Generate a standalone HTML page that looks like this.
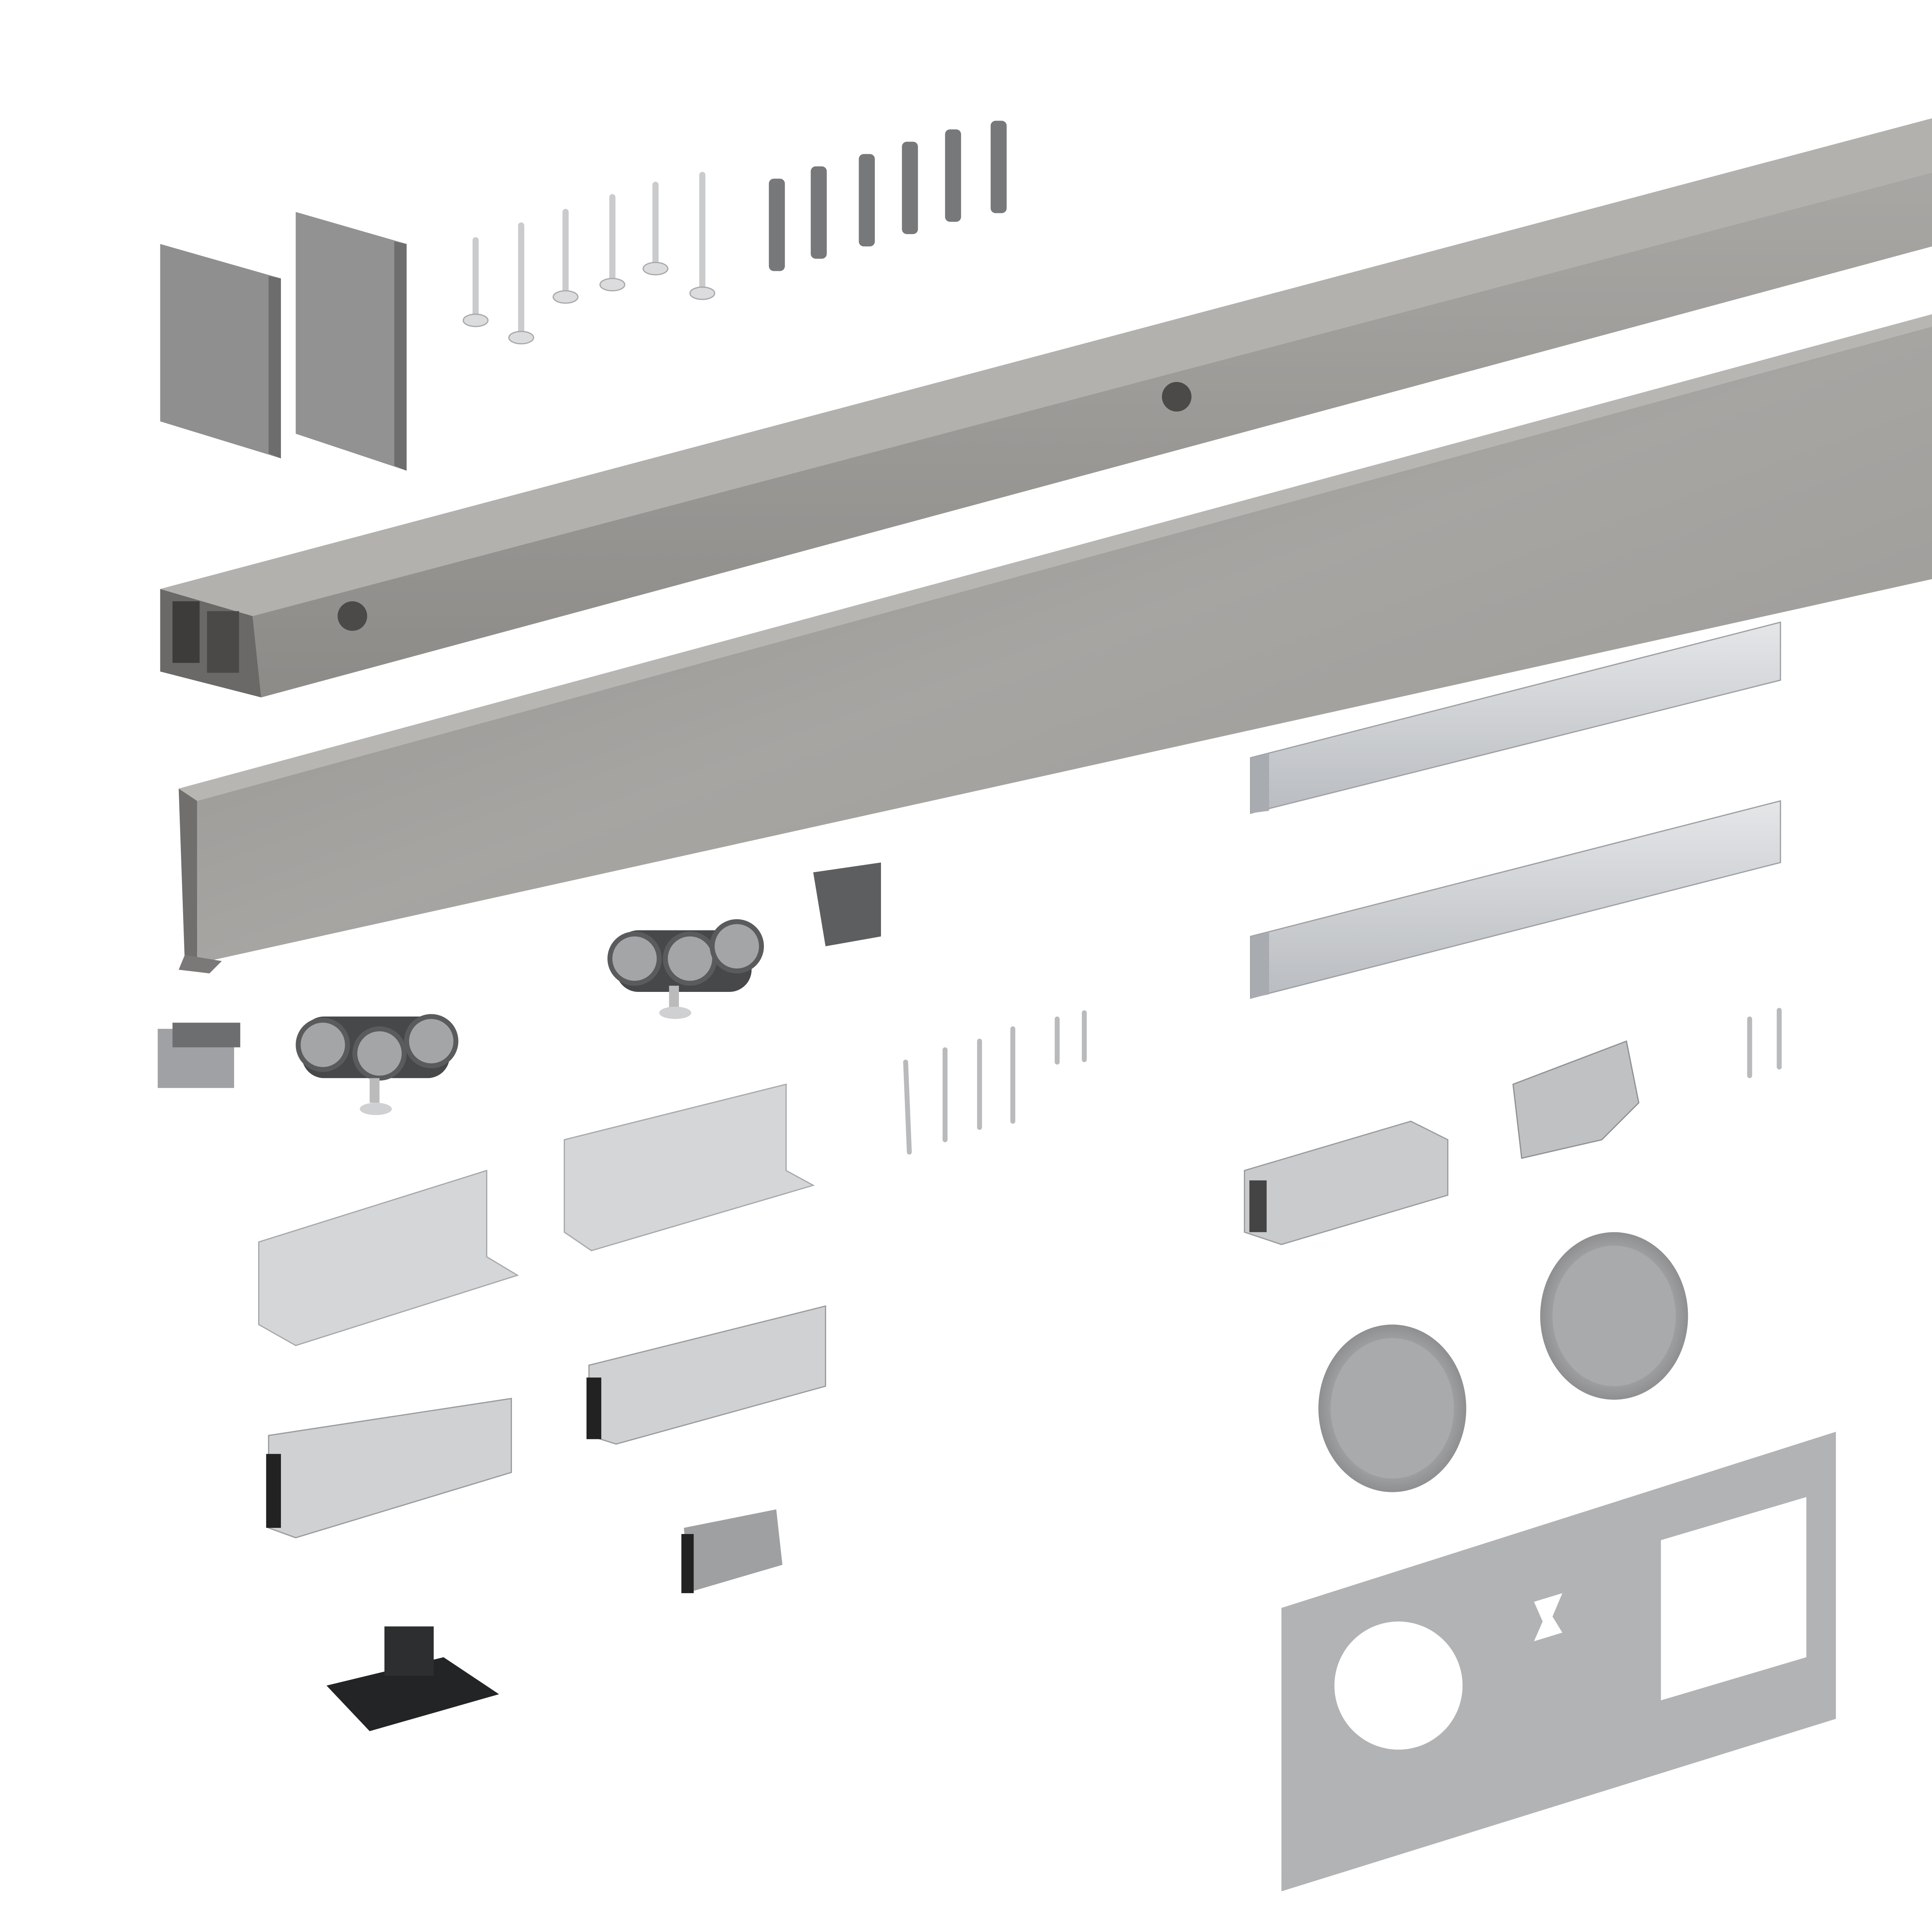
<!DOCTYPE html>
<html><head><meta charset="utf-8"><style>
html,body{margin:0;padding:0;background:#fff;overflow:hidden;width:100%;height:100%;}
svg{display:block;width:100vw;height:100vh;}
</style></head><body>
<svg viewBox="0 0 1568 1568" preserveAspectRatio="xMidYMid meet" xmlns="http://www.w3.org/2000/svg">
<defs>
<linearGradient id="rail" x1="0" y1="0" x2="0" y2="1"><stop offset="0" stop-color="#a9a7a4"/><stop offset="1" stop-color="#8d8b88"/></linearGradient>
<linearGradient id="fas" x1="0" y1="0" x2="1" y2="1"><stop offset="0" stop-color="#8e8c89"/><stop offset="0.5" stop-color="#a7a5a2"/><stop offset="1" stop-color="#9a9895"/></linearGradient>
<linearGradient id="alu" x1="0" y1="0" x2="0" y2="1"><stop offset="0" stop-color="#e4e6e8"/><stop offset="1" stop-color="#b9bcc0"/></linearGradient>
<radialGradient id="hand" cx="0.5" cy="0.5" r="0.5"><stop offset="0.75" stop-color="#a5a6a8"/><stop offset="1" stop-color="#8e8f91"/></radialGradient>
</defs>
<rect width="1568" height="1568" fill="#fff"/>

<polygon points="130,198 228,226 228,372 130,342" fill="#8f8f90"/>
<polygon points="218,224 228,226 228,372 218,368" fill="#6d6d6e"/>
<polygon points="240,172 330,198 330,382 240,352" fill="#929293"/>
<polygon points="320,196 330,198 330,382 320,378" fill="#6e6e6f"/>

<g stroke="#c9cbcd" stroke-width="5" stroke-linecap="round">
<line x1="386" y1="195" x2="386" y2="258"/><line x1="423" y1="183" x2="423" y2="270"/>
<line x1="459" y1="172" x2="459" y2="238"/><line x1="497" y1="160" x2="497" y2="228"/>
<line x1="532" y1="150" x2="532" y2="215"/><line x1="570" y1="142" x2="570" y2="235"/>
</g>
<g fill="#dadcde" stroke="#aaa" stroke-width="1">
<ellipse cx="386" cy="260" rx="10" ry="5"/><ellipse cx="423" cy="274" rx="10" ry="5"/>
<ellipse cx="459" cy="241" rx="10" ry="5"/><ellipse cx="497" cy="231" rx="10" ry="5"/>
<ellipse cx="532" cy="218" rx="10" ry="5"/><ellipse cx="570" cy="238" rx="10" ry="5"/>
</g>

<g fill="#77787a">
<rect x="624" y="145" width="13" height="75" rx="4"/><rect x="658" y="135" width="13" height="75" rx="4"/>
<rect x="697" y="125" width="13" height="75" rx="4"/><rect x="732" y="115" width="13" height="75" rx="4"/>
<rect x="767" y="105" width="13" height="75" rx="4"/><rect x="804" y="98" width="13" height="75" rx="4"/>
</g>

<polygon points="130,478 1568,96 1568,140 205,500" fill="#b3b1ae"/>
<polygon points="205,500 1568,140 1568,200 212,566" fill="url(#rail)"/>
<polygon points="130,478 205,500 212,566 130,545" fill="#6a6967"/>
<rect x="140" y="488" width="22" height="50" fill="#3d3c3b"/>
<rect x="168" y="496" width="26" height="50" fill="#4a4948"/>
<circle cx="286" cy="500" r="12" fill="#4b4a49"/>
<circle cx="955" cy="322" r="12" fill="#4b4a49"/>

<polygon points="145,640 1568,255 1568,265 160,650" fill="#b8b6b3"/>
<polygon points="160,650 1568,265 1568,470 160,782" fill="url(#fas)"/>
<polygon points="145,640 160,650 160,782 150,782" fill="#706f6d"/>
<polygon points="150,775 180,780 170,790 145,787" fill="#7a7977"/>

<polygon points="1015,615 1445,505 1445,552 1015,660" fill="url(#alu)" stroke="#9ea1a4"/>
<polygon points="1015,615 1030,612 1030,658 1015,660" fill="#a8abaf"/>
<polygon points="1015,760 1445,650 1445,700 1015,810" fill="url(#alu)" stroke="#9ea1a4"/>
<polygon points="1015,760 1030,757 1030,807 1015,810" fill="#a8abaf"/>

<polygon points="660,708 715,700 715,760 670,768" fill="#5d5e60"/>
<rect x="128" y="835" width="62" height="48" fill="#9fa1a4"/>
<rect x="140" y="830" width="55" height="20" fill="#6d6e70"/>

<rect x="500" y="755" width="110" height="50" rx="18" fill="#47484a"/>
<circle cx="515" cy="778" r="20" fill="#a4a5a7" stroke="#5a5b5d" stroke-width="4"/>
<circle cx="560" cy="778" r="20" fill="#a4a5a7" stroke="#5a5b5d" stroke-width="4"/>
<circle cx="598" cy="768" r="20" fill="#a4a5a7" stroke="#5a5b5d" stroke-width="4"/>
<rect x="543" y="800" width="8" height="20" fill="#bbb"/><ellipse cx="548" cy="822" rx="13" ry="5" fill="#cfd0d2"/>
<rect x="245" y="825" width="120" height="50" rx="18" fill="#47484a"/>
<circle cx="262" cy="848" r="20" fill="#a4a5a7" stroke="#5a5b5d" stroke-width="4"/>
<circle cx="308" cy="855" r="20" fill="#a4a5a7" stroke="#5a5b5d" stroke-width="4"/>
<circle cx="350" cy="845" r="20" fill="#a4a5a7" stroke="#5a5b5d" stroke-width="4"/>
<rect x="300" y="875" width="8" height="20" fill="#bbb"/><ellipse cx="305" cy="900" rx="13" ry="5" fill="#cfd0d2"/>

<g stroke="#b8babc" stroke-width="4" stroke-linecap="round">
<line x1="735" y1="862" x2="738" y2="935"/><line x1="767" y1="852" x2="767" y2="925"/>
<line x1="795" y1="845" x2="795" y2="915"/><line x1="822" y1="835" x2="822" y2="910"/>
<line x1="858" y1="827" x2="858" y2="862"/><line x1="880" y1="822" x2="880" y2="860"/>
<line x1="1420" y1="827" x2="1420" y2="873"/><line x1="1444" y1="820" x2="1444" y2="866"/>
</g>

<polygon points="210,1008 395,950 395,1020 420,1035 240,1092 210,1075" fill="#d4d6d8" stroke="#a7aaad"/>
<polygon points="458,925 638,880 638,950 660,962 480,1015 458,1000" fill="#d4d6d8" stroke="#a7aaad"/>
<polygon points="218,1165 415,1135 415,1195 240,1248 218,1240" fill="#cfd1d3" stroke="#9a9da0"/>
<rect x="216" y="1180" width="12" height="60" fill="#222"/>
<polygon points="478,1108 670,1060 670,1125 500,1172 478,1165" fill="#cfd1d3" stroke="#9a9da0"/>
<rect x="476" y="1118" width="12" height="50" fill="#222"/>

<polygon points="555,1240 630,1225 635,1270 560,1292" fill="#9fa0a2"/>
<rect x="553" y="1245" width="10" height="48" fill="#222"/>
<polygon points="265,1368 360,1345 405,1375 300,1405" fill="#232425"/>
<rect x="312" y="1320" width="40" height="40" fill="#2d2e2f"/>

<polygon points="1010,950 1145,910 1175,925 1175,970 1040,1010 1010,1000" fill="#c9cbcd" stroke="#9a9da0"/>
<rect x="1014" y="958" width="14" height="42" fill="#444"/>
<polygon points="1228,880 1320,845 1330,895 1300,925 1235,940" fill="#bfc1c3" stroke="#909396"/>

<ellipse cx="1130" cy="1143" rx="60" ry="68" fill="url(#hand)"/>
<ellipse cx="1130" cy="1143" rx="50" ry="57" fill="#a9aaac"/>
<ellipse cx="1310" cy="1068" rx="60" ry="68" fill="url(#hand)"/>
<ellipse cx="1310" cy="1068" rx="50" ry="57" fill="#a9aaac"/>

<polygon points="1040,1305 1490,1162 1490,1395 1040,1535" fill="#b1b3b5"/>
<circle cx="1135" cy="1368" r="52" fill="#fff"/>
<polygon points="1348,1250 1466,1215 1466,1345 1348,1380" fill="#fff"/>
<polygon points="1245,1300 1268,1293 1260,1312 1268,1325 1245,1332 1252,1316" fill="#fff"/>
</svg>
</body></html>
